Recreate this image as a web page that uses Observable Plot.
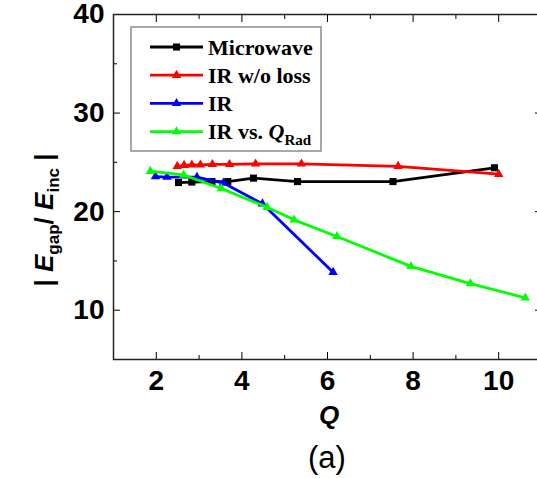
<!DOCTYPE html>
<html>
<head>
<meta charset="utf-8">
<script src="https://cdn.jsdelivr.net/npm/d3@7"></script>
<script src="https://cdn.jsdelivr.net/npm/@observablehq/plot@0.6"></script>
<style>
  html, body { margin: 0; padding: 0; background: #fff; overflow: hidden; }
  #chart { position: relative; width: 537px; height: 478px; overflow: hidden; }
  #chart svg { position: absolute; left: 0; top: 0; max-width: none !important; }
  #caption { position: absolute; left: 227px; width: 200px; top: 442px; text-align: center;
             font: 31px/31px 'Liberation Sans', Arial, sans-serif; color: #000; }
</style>
</head>
<body>
<div id="chart"><div id="caption">(a)</div></div>
<script>
// ---- data ----
const seriesNames = ["Microwave", "IR w/o loss", "IR", "IR vs. Q_Rad"];
const seriesColors = ["#000000", "#ff0000", "#0000ff", "#00ff00"];
const seriesSymbols = ["square", "triangle", "triangle", "triangle"];

const microwaveQ = [2.52, 2.83, 3.3, 3.67, 4.27, 5.3, 7.53, 9.9];
const microwaveE = [22.95, 23.0, 23.05, 23.05, 23.4, 23.05, 23.05, 24.45];

const irNoLossQ = [2.49, 2.65, 2.83, 3.03, 3.31, 3.71, 4.32, 5.39, 7.65, 10.0];
const irNoLossE = [24.6, 24.7, 24.75, 24.75, 24.8, 24.8, 24.85, 24.85, 24.6, 23.8];

const irQ = [1.98, 2.25, 2.95, 3.57, 4.48, 6.13];
const irE = [23.55, 23.5, 23.5, 22.9, 20.8, 13.85];

const irRadQ = [1.86, 2.64, 3.52, 4.59, 5.22, 6.22, 7.95, 9.34, 10.62];
const irRadE = [24.1, 23.72, 22.35, 20.45, 19.17, 17.48, 14.45, 12.7, 11.25];

const xTicks = [2, 4, 6, 8, 10];
const xMinorTicks = [3, 5, 7, 9];
const yTicks = [10, 20, 30, 40];
const yMinorTicks = [15, 25, 35];

// ---- build table ----
const seriesQ = [microwaveQ, irNoLossQ, irQ, irRadQ];
const seriesE = [microwaveE, irNoLossE, irE, irRadE];
const rows = seriesNames.flatMap((s, i) => seriesQ[i].map((q, j) => ({series: s, q, e: seriesE[i][j]})));

const fontFamily = "'Liberation Sans', Arial, sans-serif";
const blank = () => "";

const seriesMarks = seriesNames.flatMap((s, i) => {
  const d = rows.filter(r => r.series === s);
  return [
    Plot.line(d, {x: "q", y: "e", stroke: seriesColors[i], strokeWidth: 2.8}),
    Plot.dot(d, {x: "q", y: "e", symbol: () => seriesSymbols[i], fill: seriesColors[i], stroke: "none",
                 r: seriesSymbols[i] === "square" ? 4 : 3.5})
  ];
});

const plot = Plot.plot({
  width: 545,
  height: 440,
  marginTop: 14,
  marginBottom: 81,
  marginLeft: 113,
  marginRight: 4,
  x: {domain: [1, 11], label: null},
  y: {domain: [5, 40], label: null},
  symbol: {domain: ["square", "triangle"], range: ["square", "triangle"]},
  style: {fontFamily, background: "white", overflow: "visible"},
  marks: [
    Plot.axisX(xTicks, {anchor: "bottom", tickSize: -7, tickPadding: 18, fontSize: 28, fontWeight: "bold", label: null}),
    Plot.axisX(xMinorTicks, {anchor: "bottom", tickSize: -4, tickFormat: blank, label: null}),
    Plot.axisX(xTicks, {anchor: "top", tickSize: -7, tickFormat: blank, label: null}),
    Plot.axisX(xMinorTicks, {anchor: "top", tickSize: -4, tickFormat: blank, label: null}),
    Plot.axisY(yTicks, {anchor: "left", tickSize: -7, tickPadding: 16, fontSize: 28, fontWeight: "bold", label: null}),
    Plot.axisY(yMinorTicks, {anchor: "left", tickSize: -4, tickFormat: blank, label: null}),
    Plot.axisY(yTicks, {anchor: "right", tickSize: -7, tickFormat: blank, label: null}),
    Plot.axisY(yMinorTicks, {anchor: "right", tickSize: -4, tickFormat: blank, label: null}),
    Plot.frame({stroke: "#222", strokeWidth: 1.5}),
    ...seriesMarks
  ]
});

document.getElementById("chart").prepend(plot);

const svg = d3.select(plot);

// axis titles
svg.append("text")
  .attr("x", 329).attr("y", 424)
  .attr("text-anchor", "middle")
  .attr("font-family", fontFamily).attr("font-size", 26)
  .attr("font-weight", "bold").attr("font-style", "italic")
  .text("Q");

const yt = svg.append("text")
  .attr("transform", "translate(53,220) rotate(-90)")
  .attr("text-anchor", "middle")
  .attr("font-family", fontFamily).attr("font-size", 26)
  .attr("font-weight", "bold");
yt.append("tspan").text("| ");
yt.append("tspan").attr("font-style", "italic").text("E");
yt.append("tspan").attr("font-size", 17).attr("dy", 6).text("gap");
yt.append("tspan").attr("dy", -6).text("/ ");
yt.append("tspan").attr("font-style", "italic").text("E");
yt.append("tspan").attr("font-size", 17).attr("dy", 6).text("inc");
yt.append("tspan").attr("dy", -6).text(" |");

// legend
const lg = svg.append("g").attr("text-anchor", "start");
lg.append("rect").attr("x", 131).attr("y", 27).attr("width", 190).attr("height", 124)
  .attr("fill", "white").attr("stroke", "#8c8c8c").attr("stroke-width", 1.5);
seriesNames.forEach((name, i) => {
  const yy = 47 + i * 28.2;
  lg.append("line").attr("x1", 150).attr("x2", 203).attr("y1", yy).attr("y2", yy)
    .attr("stroke", seriesColors[i]).attr("stroke-width", 2.8);
  const sym = seriesSymbols[i] === "square" ? d3.symbolSquare : d3.symbolTriangle;
  const r = seriesSymbols[i] === "square" ? 4 : 3.5;
  lg.append("path").attr("d", d3.symbol(sym, Math.PI * r * r)())
    .attr("transform", `translate(176.5,${yy})`).attr("fill", seriesColors[i]);
  const t = lg.append("text").attr("x", 208).attr("y", yy + 7.5)
    .attr("text-anchor", "start")
    .attr("font-family", "'Liberation Serif', 'Times New Roman', serif")
    .attr("font-size", 22).attr("font-weight", "bold");
  if (name.includes("Q_")) {
    const [pre, sub] = name.split("Q_");
    t.append("tspan").text(pre);
    t.append("tspan").attr("font-style", "italic").text("Q");
    t.append("tspan").attr("font-size", 15).attr("dy", 6).text(sub);
  } else {
    t.text(name);
  }
});
</script>
</body>
</html>
